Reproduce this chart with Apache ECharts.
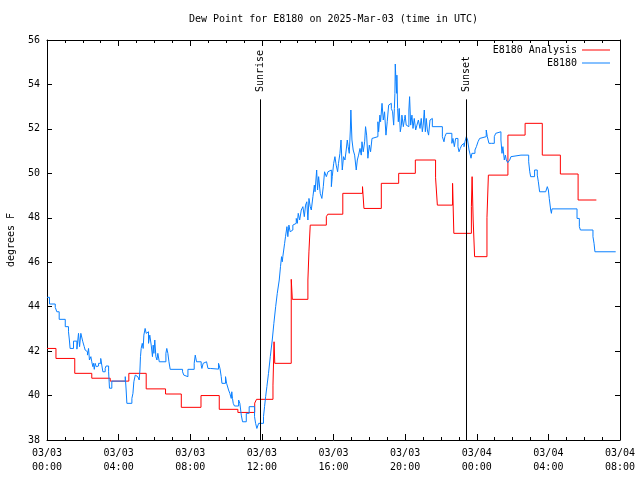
<!DOCTYPE html>
<html>
<head>
<meta charset="utf-8">
<script src="https://cdn.jsdelivr.net/npm/echarts@6/dist/echarts.min.js"></script>
<style>html,body{margin:0;padding:0;background:#fff}#c{width:640px;height:480px}</style>
</head>
<body>
<div id="c"></div>
<script>
// ---- data (hours since 2025-03-03 00:00 UTC, degrees F) ----
const titleText = 'Dew Point for E8180 on 2025-Mar-03 (time in UTC)';
const yAxisName = 'degrees F';
const xTickLabels = ['03/03\n00:00','03/03\n04:00','03/03\n08:00','03/03\n12:00','03/03\n16:00','03/03\n20:00','03/04\n00:00','03/04\n04:00','03/04\n08:00'];
const seriesNames = ['E8180 Analysis', 'E8180'];
const sunEventNames = ['Sunrise', 'Sunset'];
const sunEventHours = [11.91, 23.42];

const analysisHours = [0.00,0.50,1.55,2.50,3.53,4.57,5.54,6.62,7.50,8.60,9.62,10.66,11.60,11.70,12.62,12.68,12.72,13.64,13.70,14.57,14.63,14.70,15.60,15.68,16.52,17.62,17.70,18.67,19.64,20.57,21.70,21.80,22.65,22.72,23.70,23.74,23.80,23.88,24.57,24.65,25.74,26.70,27.66,28.67,29.66,30.68];
const analysisDew   = [42.12,41.67,41.00,40.78,40.65,41.00,40.30,40.07,39.47,40.00,39.38,39.24,39.66,39.83,40.47,42.42,41.45,45.23,44.33,45.20,46.50,47.67,48.05,48.16,49.10,49.40,48.42,49.55,50.00,50.60,49.80,48.57,49.55,47.30,48.50,49.85,47.90,46.25,48.00,49.92,51.72,52.25,50.82,49.97,48.80,48.80];

const obsHours = [0.00,0.14,0.46,0.55,0.68,1.02,1.20,1.25,1.29,1.48,1.67,1.76,1.82,1.89,2.00,2.08,2.13,2.19,2.26,2.32,2.37,2.45,2.50,2.56,2.60,2.64,2.69,2.75,2.82,2.88,3.00,3.06,3.12,3.25,3.30,3.44,3.49,3.62,4.37,4.42,4.46,4.74,4.80,4.85,4.93,5.00,5.07,5.15,5.19,5.22,5.26,5.32,5.37,5.41,5.48,5.54,5.60,5.67,5.74,5.82,5.89,5.93,5.97,6.02,6.08,6.14,6.19,6.27,6.64,6.69,6.75,6.81,6.88,7.57,7.64,7.72,7.87,8.22,8.28,8.35,8.61,8.65,8.72,8.80,8.91,8.99,9.12,9.58,9.66,9.73,9.77,9.97,10.03,10.14,10.21,10.29,10.32,10.36,10.40,10.47,10.70,10.77,10.85,10.92,11.13,11.29,11.59,11.65,11.72,11.82,12.09,12.15,12.21,12.28,12.37,12.47,12.58,12.67,12.77,12.86,12.97,13.04,13.10,13.14,13.17,13.27,13.32,13.40,13.45,13.51,13.58,13.66,13.73,13.83,13.92,13.98,14.03,14.11,14.20,14.29,14.37,14.44,14.51,14.57,14.63,14.70,14.76,14.85,14.93,14.97,15.06,15.11,15.17,15.26,15.35,15.43,15.50,15.60,15.69,15.78,15.88,15.93,16.01,16.08,16.15,16.23,16.28,16.36,16.42,16.49,16.56,16.64,16.71,16.77,16.82,16.88,16.94,16.97,17.03,17.10,17.18,17.27,17.33,17.40,17.48,17.55,17.59,17.66,17.74,17.79,17.85,17.92,18.00,18.07,18.15,18.22,18.48,18.52,18.59,18.63,18.71,18.78,18.85,18.93,19.00,19.08,19.15,19.23,19.30,19.36,19.40,19.43,19.45,19.49,19.53,19.54,19.58,19.62,19.67,19.73,19.79,19.82,19.90,19.97,20.00,20.06,20.15,20.21,20.25,20.31,20.38,20.44,20.51,20.59,20.66,20.74,20.83,20.90,20.96,21.01,21.07,21.13,21.18,21.24,21.31,21.39,21.46,21.52,22.08,22.17,22.22,22.30,22.61,22.67,22.75,22.82,22.95,23.01,23.08,23.16,23.23,23.29,23.34,23.42,23.49,23.57,23.68,23.73,23.90,23.98,24.07,24.16,24.26,24.53,24.59,24.68,24.81,24.91,24.98,25.06,25.13,25.35,25.41,25.46,25.54,25.60,25.65,25.73,25.84,25.91,25.99,26.47,26.55,26.90,26.96,27.01,27.23,27.38,27.44,27.51,27.85,27.94,28.00,28.05,28.13,28.17,28.20,29.60,29.73,29.79,30.49,30.55,30.60,31.76];
const obsDew = [44.42,44.12,43.97,43.77,43.43,43.10,42.87,42.50,42.12,42.45,42.09,42.80,42.20,42.80,42.42,42.20,42.05,41.97,41.82,42.12,41.60,41.75,41.52,41.30,41.45,41.18,41.45,41.30,41.33,41.45,41.67,41.37,41.07,41.22,41.33,41.07,40.33,40.65,40.85,40.25,39.65,39.87,40.10,40.62,40.92,40.85,40.77,40.70,41.15,41.75,42.12,42.35,42.12,42.72,43.02,42.80,42.87,42.35,42.72,42.27,41.75,42.27,41.90,42.50,41.75,41.60,41.90,41.52,41.90,42.12,41.90,41.52,41.18,41.07,40.92,40.85,41.18,41.45,41.82,41.52,41.37,41.22,41.45,41.52,41.45,41.22,41.19,41.45,41.22,40.85,40.55,40.85,40.55,40.25,40.10,39.87,40.17,39.87,39.65,39.53,39.80,39.65,39.12,38.82,39.20,39.50,39.05,38.75,38.52,38.75,39.05,39.50,39.95,40.40,41.00,41.75,42.50,43.25,44.00,44.60,45.20,45.80,46.25,46.02,46.25,46.85,47.15,47.60,47.15,47.67,47.37,47.45,47.67,47.75,47.97,47.75,48.20,47.90,48.35,48.50,48.05,48.57,48.72,47.90,48.87,48.50,48.35,48.95,49.47,49.17,50.15,49.25,49.85,49.10,48.87,49.40,50.07,49.85,50.07,50.15,49.40,49.85,50.45,50.75,50.37,50.07,50.45,50.90,51.50,50.15,50.75,50.60,51.05,51.50,51.20,50.90,51.95,52.85,51.50,51.05,50.82,50.15,50.60,50.82,51.12,50.82,51.42,50.97,51.42,52.10,51.72,50.68,51.27,50.97,51.57,51.65,52.32,51.87,52.62,52.32,53.15,52.40,52.77,51.72,52.32,53.07,53.15,52.92,52.77,52.17,52.92,53.60,54.92,54.12,53.60,54.42,52.92,52.32,52.92,51.87,52.17,52.62,52.10,52.47,52.62,52.17,52.10,52.85,53.45,52.17,52.62,52.02,52.47,51.95,52.17,52.40,52.02,52.47,51.87,52.17,52.85,51.87,52.47,51.95,51.72,52.40,52.47,52.10,51.65,51.42,51.65,51.80,51.35,51.57,51.20,51.57,51.20,50.97,51.12,51.27,51.35,51.20,51.42,51.65,51.50,51.05,50.68,50.90,51.05,51.20,51.42,51.57,51.65,51.95,51.65,51.35,51.27,51.35,51.65,51.80,51.87,51.50,50.90,51.20,50.60,50.82,50.60,50.48,50.60,50.75,50.82,50.90,50.82,50.52,50.07,49.85,50.15,49.92,49.62,49.17,49.25,49.40,49.25,48.87,48.35,48.20,48.40,47.97,47.60,47.45,47.15,46.85,46.47,46.47];

// ---- chart ----
const FONT = 'DejaVu Sans Mono';
const zip = (xs, ys) => xs.map((x, i) => [x, ys[i]]);
const txt = {fontFamily: FONT, fontSize: 10, color: '#000'};
const black = {color: '#000', width: 1};

const chart = echarts.init(document.getElementById('c'), null, {renderer: 'canvas'});
const lineTop = 53.33, labelBase = 53.66;

const xBase = {
  type: 'value', min: 0, max: 32, interval: 4,
  axisLine: {show: true, onZero: false, lineStyle: black},
  axisTick: {show: true, inside: true, length: 6, lineStyle: black},
  minorTick: {show: true, splitNumber: 4, length: 3, lineStyle: black},
  splitLine: {show: false}, minorSplitLine: {show: false}
};
const yBase = {
  type: 'value', min: 38, max: 56, interval: 2,
  axisLine: {show: true, onZero: false, lineStyle: black},
  axisTick: {show: true, inside: true, length: 5, lineStyle: black},
  splitLine: {show: false}
};

chart.setOption({
  animation: false,
  backgroundColor: '#fff',
  title: {text: titleText, left: 189, top: 14, padding: 0,
          textStyle: Object.assign({fontWeight: 'normal'}, txt)},
  legend: {
    data: seriesNames, orient: 'vertical', align: 'right', right: 30, top: 45,
    padding: 0, itemWidth: 28, itemHeight: 10, itemGap: 3,
    icon: 'path://M0,0H28V1H0Z', textStyle: txt
  },
  grid: {left: 47, right: 20, top: 40, bottom: 40, containLabel: false, outerBoundsMode: 'none'},
  xAxis: [
    Object.assign({}, xBase, {position: 'bottom',
      axisLabel: Object.assign({formatter: v => xTickLabels[Math.round(v / 4)], lineHeight: 14, margin: 6}, txt)}),
    Object.assign({}, xBase, {position: 'top', axisLabel: {show: false}})
  ],
  yAxis: [
    Object.assign({}, yBase, {position: 'left', name: yAxisName, nameLocation: 'middle', nameGap: 31, nameRotate: 90,
      nameTextStyle: txt, axisLabel: Object.assign({margin: 7}, txt)}),
    Object.assign({}, yBase, {position: 'right', axisLabel: {show: false}})
  ],
  series: [
    {
      name: seriesNames[0], type: 'line', step: 'end', symbol: 'none',
      xAxisIndex: 0, yAxisIndex: 0,
      data: zip(analysisHours, analysisDew),
      lineStyle: {color: '#ff0000', width: 1}, itemStyle: {color: '#ff0000'},
      markLine: {
        silent: true, symbol: ['none', 'none'], animation: false,
        label: {show: false},
        lineStyle: {color: '#000', width: 1, type: 'solid'},
        data: sunEventHours.map(h => [{coord: [h, 38]}, {coord: [h, lineTop]}])
      },
      markPoint: {
        silent: true, symbol: 'circle', symbolSize: 0, animation: false,
        label: Object.assign({show: true, position: 'inside', rotate: 90, align: 'left', verticalAlign: 'middle',
          formatter: p => p.name}, txt),
        data: sunEventHours.map((h, i) => ({name: sunEventNames[i], coord: [h, labelBase]}))
      }
    },
    {
      name: seriesNames[1], type: 'line', step: 'end', symbol: 'none',
      xAxisIndex: 0, yAxisIndex: 0,
      data: zip(obsHours, obsDew),
      lineStyle: {color: '#0a80ff', width: 1}, itemStyle: {color: '#0a80ff'}
    }
  ]
});
</script>
</body>
</html>
